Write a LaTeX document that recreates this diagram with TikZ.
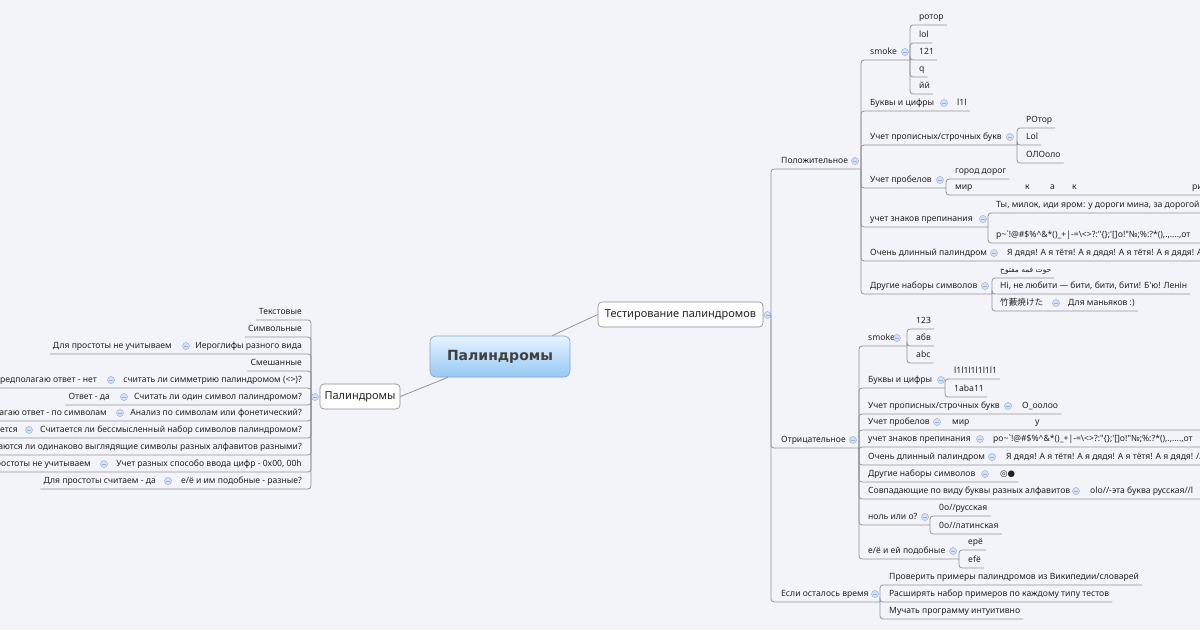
\documentclass[tikz,border=0pt]{standalone}
\usepackage{fontspec}
\setmainfont{Noto Sans}[Ligatures=TeXOff]
\newfontfamily\arabicfont[Script=Arabic]{DejaVu Sans}
\newfontfamily\cjkfont{Noto Sans CJK JP}
\newfontfamily\symfont{DejaVu Sans}
\newfontfamily\rootfont{DejaVu Sans}
\TeXXeTstate=1
\usetikzlibrary{calc}
\definecolor{bgc}{RGB}{243,244,249}
\definecolor{linec}{RGB}{150,150,150}
\definecolor{txt}{RGB}{35,35,35}
\definecolor{roottxt}{RGB}{64,64,64}
\definecolor{collf}{RGB}{214,226,244}
\definecolor{collb}{RGB}{150,178,222}
\definecolor{rootTop}{RGB}{232,243,255}
\definecolor{rootBot}{RGB}{150,200,245}
\definecolor{rootB}{RGB}{130,165,205}
\definecolor{boxb}{RGB}{140,140,140}
\newcommand\fs{\fontsize{8.6}{10}\selectfont}
\newcommand\UL[2]{\draw[conn] (#1) |- ($(#2.east)+(3,8)$);}
\newcommand\ULL[2]{\draw[conn] (#1) |- ($(#2.west)+(-3,8)$);}
\newcommand\punctA{p\textasciitilde`!@\#\$\%\textasciicircum\&*()\_+|-=\textbackslash<>?:"\{\};'[]o!"№;\%:?*(),.,....,от}
\newcommand\punctB{po\textasciitilde`!@\#\$\%\textasciicircum\&*()\_+|-=\textbackslash<>?:"\{\};'[]o!"№;\%:?*(),.,....,от}
\tikzset{
  conn/.style={draw=linec, line width=0.8pt, rounded corners=3pt},
  link/.style={draw=linec, line width=0.8pt},
  tt/.style={font=\fs, text=txt, inner sep=0pt, text height=6.5pt, text depth=2pt, anchor=west},
  tr/.style={tt, anchor=east},
  coll/.style={circle, draw=collb, fill=collf, line width=0.5pt, minimum size=7pt, inner sep=0pt,
     path picture={\draw[collb, line width=0.7pt] ([xshift=-2pt]path picture bounding box.center) -- ([xshift=2pt]path picture bounding box.center);}},
  rootnode/.style={rounded corners=6pt, top color=rootTop, bottom color=rootBot, draw=rootB, line width=0.6pt, minimum width=140pt, minimum height=41pt, font=\rootfont\bfseries\fontsize{14}{17}\selectfont, text=roottxt},
  mainbox/.style={rounded corners=4pt, fill=white, draw=boxb, line width=0.6pt, minimum height=25pt, inner xsep=4pt, font=\fontsize{11}{13}\selectfont, text=txt},
}
\begin{document}
\begin{tikzpicture}[x=1pt,y=-1pt]
\useasboundingbox (0,0) rectangle (1200,630);
\fill[bgc] (0,0) rectangle (1200,630);
\clip (0,0) rectangle (1200,630);

% ---- centre and main boxes
\node[rootnode] (root) at (500,356.5) {Палиндромы};
\node[mainbox, minimum width=165pt] (test) at (680.5,314.5) {Тестирование палиндромов};
\node[mainbox, minimum width=80pt] (pal) at (360,396.5) {Палиндромы};
\draw[link] ([xshift=52pt]root.north) -- (test.west);
\draw[link] ([xshift=-52pt]root.south) -- (pal.east);
\node[coll] (ctest) at (767.5,315) {};
\node[coll] (cpal) at (315,397) {};
\coordinate (Jt) at (771,315);
\coordinate (Jl) at (311,397);

% ---- Положительное
\node[tt] (pos) at (781,161) {Положительное};
\node[coll] (cpos) at (855,161) {};
\coordinate (Jpos) at (861,169);
\draw[conn] (Jt) |- (Jpos);

\node[tt] (ps) at (870,52) {smoke};
\node[coll] (cps) at (905,52) {};
\coordinate (Jps) at (910,60);
\draw[conn] (Jpos) |- (Jps);
\node[tt] (ps1) at (919,17) {ротор}; \UL{Jps}{ps1}
\node[tt] (ps2) at (919,35) {lol}; \UL{Jps}{ps2}
\node[tt] (ps3) at (919,52) {121}; \UL{Jps}{ps3}
\node[tt] (ps4) at (919,69) {q}; \UL{Jps}{ps4}
\node[tt] (ps5) at (919,86) {йй}; \UL{Jps}{ps5}

\node[tt] (pb) at (870,103) {Буквы и цифры};
\node[coll] (cpb) at (944,103) {};
\node[tt] (pb1) at (957,103) {l1l}; \UL{Jpos}{pb1}

\node[tt] (pu) at (870,137) {Учет прописных/строчных букв};
\node[coll] (cpu) at (1010,137) {};
\coordinate (Jpu) at (1017,145);
\draw[conn] (Jpos) |- (Jpu);
\node[tt] (pu1) at (1026,120) {РОтор}; \UL{Jpu}{pu1}
\node[tt] (pu2) at (1026,137) {Lol}; \UL{Jpu}{pu2}
\node[tt] (pu3) at (1026,155) {ОЛОоло}; \UL{Jpu}{pu3}

\node[tt] (pp) at (870,180) {Учет пробелов};
\node[coll] (cpp) at (940,180) {};
\coordinate (Jpp) at (946,188);
\draw[conn] (Jpos) |- (Jpp);
\node[tt] (pp1) at (955,171) {город дорог}; \UL{Jpp}{pp1}
\node[tt] (pp2) at (955,187) {\makebox[70pt][l]{мир}\makebox[25pt][l]{к}\makebox[22pt][l]{а}\makebox[120pt][l]{к}ри};
\coordinate (Epp2) at (1210,195);
\draw[conn] (Jpp) |- (Epp2);

\node[tt] (pz) at (870,219) {учет знаков препинания};
\node[coll] (cpz) at (983,219) {};
\coordinate (Jpz) at (988,227);
\draw[conn] (Jpos) |- (Jpz);
\node[tt] (pz1) at (996,205) {Ты, милок, иди яром: у дороги мина, за дорогой};
\coordinate (Epz1) at (1210,213);
\draw[conn] (Jpz) |- (Epz1);
\node[tt] (pz2) at (996,235) {\punctA};
\coordinate (Epz2) at (1210,243);
\draw[conn] (Jpz) |- (Epz2);

\node[tt] (pd) at (870,253) {Очень длинный палиндром};
\node[coll] (cpd) at (994,253) {};
\node[tt] (pd1) at (1007,253) {Я дядя! А я тётя! А я дядя! А я тётя! А я дядя! А я тётя!};
\coordinate (Epd) at (1210,261);
\draw[conn] (Jpos) |- (Epd);

\node[tt] (po) at (870,286) {Другие наборы символов};
\node[coll] (cpo) at (985,286) {};
\coordinate (Jpo) at (992,294);
\draw[conn] (Jpos) |- (Jpo);
\node[tt, font=\fontsize{7.5}{8}\selectfont] (po1) at (1000,270) {\arabicfont\beginR حوت فمه مفتوح\endR}; \UL{Jpo}{po1}
\node[tt] (po2) at (1000,286) {Ні, не любити — бити, бити, бити! Б'ю! Ленін}; \UL{Jpo}{po2}
\node[tt] (po3) at (1000,303) {\cjkfont 竹藪焼けた};
\node[coll] (cpo3) at (1056,303) {};
\node[tt] (po4) at (1068,303) {Для маньяков :)}; \UL{Jpo}{po4}

% ---- Отрицательное
\node[tt] (neg) at (781,440) {Отрицательное};
\node[coll] (cneg) at (853,440) {};
\coordinate (Jneg) at (859,448);
\draw[conn] (Jt) |- (Jneg);

\node[tt] (ns) at (868,338) {smoke};
\node[coll] (cns) at (897,338) {};
\coordinate (Jns) at (907,346);
\draw[conn] (Jneg) |- (Jns);
\node[tt] (ns1) at (916,321) {123}; \UL{Jns}{ns1}
\node[tt] (ns2) at (916,338) {абв}; \UL{Jns}{ns2}
\node[tt] (ns3) at (916,355) {abc}; \UL{Jns}{ns3}

\node[tt] (nb) at (868,380) {Буквы и цифры};
\node[coll] (cnb) at (941,380) {};
\coordinate (Jnb) at (945,388);
\draw[conn] (Jneg) |- (Jnb);
\node[tt] (nb1) at (954,371) {l1l1l1l1l1l1}; \UL{Jnb}{nb1}
\node[tt] (nb2) at (954,389) {1aba11}; \UL{Jnb}{nb2}

\node[tt] (nu) at (868,406) {Учет прописных/строчных букв};
\node[coll] (cnu) at (1008,406) {};
\node[tt] (nu1) at (1022,406) {О\_оолоо}; \UL{Jneg}{nu1}

\node[tt] (np) at (868,422) {Учет пробелов};
\node[coll] (cnp) at (937,422) {};
\node[tt] (np1) at (952,422) {\makebox[83pt][l]{мир}у};
\coordinate (Enp) at (1210,430);
\draw[conn] (Jneg) |- (Enp);

\node[tt] (nz) at (868,439) {учет знаков препинания};
\node[coll] (cnz) at (980,439) {};
\node[tt] (nz1) at (993,439) {\punctB};
\coordinate (Enz) at (1210,447);
\draw[conn] (Jneg) |- (Enz);

\node[tt] (nd) at (868,457) {Очень длинный палиндром};
\node[coll] (cnd) at (992,457) {};
\node[tt] (nd1) at (1006,457) {Я дядя! А я тётя! А я дядя! А я тётя! А я дядя! //};
\coordinate (End) at (1210,465);
\draw[conn] (Jneg) |- (End);

\node[tt] (no) at (868,474) {Другие наборы символов};
\node[coll] (cno) at (985,474) {};
\node[tt] (no1) at (1000,474) {\symfont ◎●}; \UL{Jneg}{no1}

\node[tt] (nv) at (868,491) {Совпадающие по виду буквы разных алфавитов};
\node[coll] (cnv) at (1076,491) {};
\node[tt] (nv1) at (1090,491) {olo//-эта буква русская//l};
\coordinate (Env) at (1210,499);
\draw[conn] (Jneg) |- (Env);

\node[tt] (nn) at (868,517) {ноль или о?};
\node[coll] (cnn) at (925,517) {};
\coordinate (Jnn) at (930,525);
\draw[conn] (Jneg) |- (Jnn);
\node[tt] (nn1) at (939,508) {0o//русская}; \UL{Jnn}{nn1}
\node[tt] (nn2) at (939,526) {0o//латинская}; \UL{Jnn}{nn2}

\node[tt] (ne) at (868,551) {е/ё и ей подобные};
\node[coll] (cne) at (953,551) {};
\coordinate (Jne) at (959,559);
\draw[conn] (Jneg) |- (Jne);
\node[tt] (ne1) at (968,542) {ерё}; \UL{Jne}{ne1}
\node[tt] (ne2) at (968,560) {efё}; \UL{Jne}{ne2}

% ---- Если осталось время
\node[tt] (es) at (781,594) {Если осталось время};
\node[coll] (ces) at (875,594) {};
\coordinate (Jes) at (880,602);
\draw[conn] (Jt) |- (Jes);
\node[tt] (es1) at (889,577) {Проверить примеры палиндромов из Википедии/словарей}; \UL{Jes}{es1}
\node[tt] (es2) at (889,594) {Расширять набор примеров по каждому типу тестов}; \UL{Jes}{es2}
\node[tt] (es3) at (889,611) {Мучать программу интуитивно}; \UL{Jes}{es3}

% ---- left side
\node[tr] (l1) at (302,312) {Текстовые}; \ULL{Jl}{l1}
\node[tr] (l2) at (302,329) {Символьные}; \ULL{Jl}{l2}
\node[tr] (l3) at (302,346) {Иероглифы разного вида};
\node[coll] (cl3) at (186,346) {};
\node[tr] (l3a) at (172,346) {Для простоты не учитываем}; \ULL{Jl}{l3a}
\node[tr] (l4) at (302,363) {Смешанные}; \ULL{Jl}{l4}
\node[tr] (l5) at (302,380) {считать ли симметрию палиндромом (<>)?};
\node[coll] (cl5) at (111,380) {};
\node[tr] (l5a) at (97,380) {редполагаю ответ - нет};
\coordinate (El5) at (-10,388);
\draw[conn] (Jl) |- (El5);
\node[tr] (l6) at (302,397) {Считать ли один символ палиндромом?};
\node[coll] (cl6) at (124,397) {};
\node[tr] (l6a) at (110,397) {Ответ - да}; \ULL{Jl}{l6a}
\node[tr] (l7) at (302,413) {Анализ по символам или фонетический?};
\node[coll] (cl7) at (120,413) {};
\node[tr] (l7a) at (107,413) {агаю ответ - по символам};
\coordinate (El7) at (-10,421);
\draw[conn] (Jl) |- (El7);
\node[tr] (l8) at (302,430) {Считается ли бессмысленный набор символов палиндромом?};
\node[coll] (cl8) at (29,430) {};
\node[tr] (l8a) at (18,430) {ется};
\coordinate (El8) at (-10,438);
\draw[conn] (Jl) |- (El8);
\node[tr] (l9) at (302,447) {ваются ли одинаково выглядящие символы разных алфавитов разными?};
\coordinate (El9) at (-10,455);
\draw[conn] (Jl) |- (El9);
\node[tr] (l10) at (302,464) {Учет разных способо ввода цифр - 0x00, 00h};
\node[coll] (cl10) at (104,464) {};
\node[tr] (l10a) at (91,464) {ростоты не учитываем};
\coordinate (El10) at (-10,472);
\draw[conn] (Jl) |- (El10);
\node[tr] (l11) at (302,481) {е/ё и им подобные - разные?};
\node[coll] (cl11) at (168,481) {};
\node[tr] (l11a) at (156,481) {Для простоты считаем - да}; \ULL{Jl}{l11a}
\end{tikzpicture}
\end{document}
